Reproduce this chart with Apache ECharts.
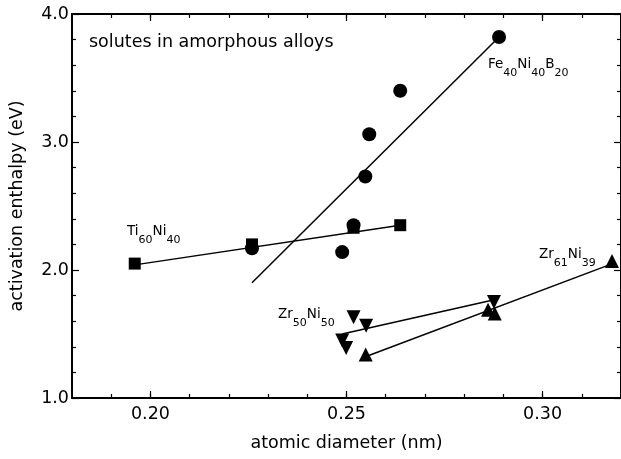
<!DOCTYPE html>
<html>
<head>
<meta charset="utf-8">
<script src="https://cdn.jsdelivr.net/npm/echarts@6/dist/echarts.min.js"></script>
<style>html,body{margin:0;padding:0;background:#fff;}#c{width:621px;height:459px;}</style>
</head>
<body>
<div id="c"></div>
<script>
// ---- data ----
const feX = [0.2259, 0.2489, 0.2518, 0.2548, 0.2558, 0.2637, 0.2889];
const feY = [2.17, 2.14, 2.35, 2.73, 3.06, 3.40, 3.82];
const feFitX = [0.2259, 0.2889];
const feFitY = [1.90, 3.82];

const tiX = [0.1960, 0.2259, 0.2518, 0.2637];
const tiY = [2.05, 2.20, 2.33, 2.35];
const tiFitX = [0.1960, 0.2637];
const tiFitY = [2.04, 2.35];

const zr61X = [0.2549, 0.2861, 0.2878, 0.3177];
const zr61Y = [1.34, 1.69, 1.66, 2.07];
const zr61FitX = [0.2555, 0.3170];
const zr61FitY = [1.33, 2.04];

const zr50X = [0.2489, 0.2499, 0.2518, 0.2550, 0.2876];
const zr50Y = [1.45, 1.39, 1.63, 1.565, 1.75];
const zr50FitX = [0.2489, 0.2874];
const zr50FitY = [1.50, 1.766];

const xMajorTicks = [0.20, 0.25, 0.30];
const xMinorTicks = [0.19, 0.20, 0.21, 0.22, 0.23, 0.24, 0.25, 0.26, 0.27, 0.28, 0.29, 0.30, 0.31];
const yTicks = [1.0, 2.0, 3.0, 4.0];

const titleText = 'solutes in amorphous alloys';
const xTitle = 'atomic diameter (nm)';
const yTitle = 'activation enthalpy (eV)';
const labelFe = '{n|Fe}{s|40}{n|Ni}{s|40}{n|B}{s|20}';
const labelTi = '{n|Ti}{s|60}{n|Ni}{s|40}';
const labelZr50 = '{n|Zr}{s|50}{n|Ni}{s|50}';
const labelZr61 = '{n|Zr}{s|61}{n|Ni}{s|39}';

// ---- chart ----
const FONT = 'DejaVu Sans';
const pairs = (xs, ys) => xs.map((x, i) => [x, ys[i]]);
const chart = echarts.init(document.getElementById('c'), null, {renderer: 'canvas'});

const xMin = 0.18, xMax = 0.32;
function xAxisDef(pos, major, withLine, withLabel) {
  return {
    type: 'value', position: pos, min: xMin, max: xMax,
    axisLine: {show: withLine, onZero: false, lineStyle: {color: '#000', width: 2}},
    axisTick: {show: true, inside: true, length: major ? 7 : 4,
      customValues: major ? xMajorTicks : xMinorTicks, lineStyle: {color: '#000', width: 1.2}},
    axisLabel: {show: withLabel, customValues: xMajorTicks, formatter: v => v.toFixed(2),
      color: '#000', fontFamily: FONT, fontSize: 17.5, margin: 7},
    splitLine: {show: false},
    name: withLabel ? xTitle : '', nameLocation: 'middle', nameGap: 36,
    nameTextStyle: {color: '#000', fontFamily: FONT, fontSize: 17.5}
  };
}
function yAxisDef(pos, withLabel) {
  return {
    type: 'value', position: pos, min: 1, max: 4, interval: 1,
    axisLine: {show: true, onZero: false, lineStyle: {color: '#000', width: 2}},
    axisTick: {show: true, inside: true, length: 7, lineStyle: {color: '#000', width: 1.2}},
    minorTick: {show: true, splitNumber: 5, length: 4, lineStyle: {color: '#000', width: 1.2}},
    axisLabel: {show: withLabel, formatter: v => v.toFixed(1), color: '#000',
      fontFamily: FONT, fontSize: 17.5, margin: 3},
    splitLine: {show: false},
    name: withLabel ? yTitle : '', nameLocation: 'middle', nameGap: 46,
    nameTextStyle: {color: '#000', fontFamily: FONT, fontSize: 17.5}
  };
}

const lineStyle = {color: '#000', width: 1.5};
function fit(xs, ys) {
  return {type: 'line', data: pairs(xs, ys), showSymbol: false, symbol: 'none',
    lineStyle: lineStyle, silent: true, z: 2, animation: false};
}
function pts(xs, ys, symbol, size, rot) {
  return {type: 'scatter', data: pairs(xs, ys), symbol: symbol, symbolSize: size,
    symbolRotate: rot || 0, itemStyle: {color: '#000', opacity: 1}, z: 3, animation: false};
}

const rich = {
  n: {fontFamily: FONT, fontSize: 13.5, color: '#000', verticalAlign: 'top', lineHeight: 14},
  s: {fontFamily: FONT, fontSize: 11, color: '#000', verticalAlign: 'bottom', lineHeight: 21.5}
};
function ann(text, x, y) {
  return {type: 'text', x: x, y: y, style: {text: text, rich: rich, fill: '#000',
    textVerticalAlign: 'top', verticalAlign: 'top', align: 'left'}};
}

chart.setOption({
  animation: false,
  backgroundColor: '#fff',
  grid: {left: 72, top: 14, width: 550, height: 384, containLabel: false},
  xAxis: [
    xAxisDef('bottom', false, true, true),
    xAxisDef('bottom', true, false, false),
    xAxisDef('top', false, true, false),
    xAxisDef('top', true, false, false)
  ],
  yAxis: [yAxisDef('left', true), yAxisDef('right', false)],
  series: [
    fit(feFitX, feFitY), fit(tiFitX, tiFitY), fit(zr61FitX, zr61FitY), fit(zr50FitX, zr50FitY),
    pts(feX, feY, 'circle', 14),
    pts(tiX, tiY, 'rect', 12),
    pts(zr61X, zr61Y, 'triangle', 14),
    pts(zr50X, zr50Y, 'triangle', 14, 180)
  ],
  graphic: [
    {type: 'text', x: 89, y: 42.5, style: {text: titleText, fill: '#000',
      font: '17.5px "DejaVu Sans"', verticalAlign: 'middle', textVerticalAlign: 'middle', align: 'left'}},
    ann(labelFe, 488, 57),
    ann(labelTi, 127, 224),
    ann(labelZr50, 278, 307),
    ann(labelZr61, 539, 247)
  ]
});
</script>
</body>
</html>
